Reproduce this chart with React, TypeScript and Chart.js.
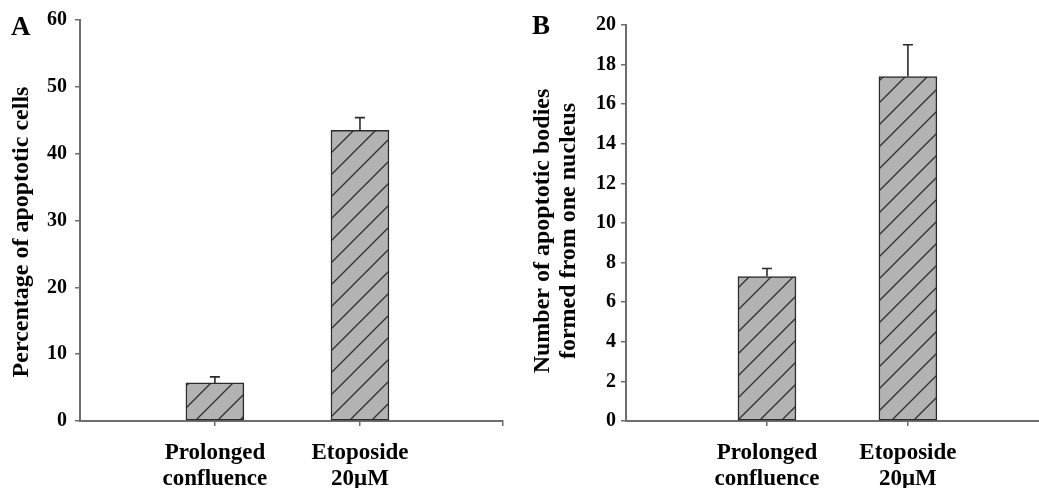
import React, { useEffect, useRef } from 'react';
import { Chart, registerables } from 'chart.js';

Chart.register(...registerables);

// ---- data ----
const categoryLabels: string[][] = [['Prolonged', 'confluence'], ['Etoposide', '20\u03BCM']];
const categoryPositions = [1, 2];
const percentApoptotic = [5.7, 43.5];
const percentApoptoticErr = [0.9, 1.9];
const bodiesPerNucleus = [7.3, 17.4];
const bodiesPerNucleusErr = [0.4, 1.6];
const titleA = ['Percentage of apoptotic cells'];
const titleB = ['Number of apoptotic bodies', 'formed from one nucleus'];

const SERIF = "'Liberation Serif', 'Times New Roman', serif";
const AXIS = '#6e6e6e';
const INK = '#000000';

function makeHatch(): CanvasPattern | string {
  const s = 22;
  const c = document.createElement('canvas');
  c.width = s;
  c.height = s;
  const g = c.getContext('2d');
  if (!g) return '#b4b4b4';
  g.fillStyle = '#b3b3b3';
  g.fillRect(0, 0, s, s);
  g.strokeStyle = '#2e2e2e';
  g.lineWidth = 1.3;
  g.beginPath();
  g.moveTo(-2, s + 2);
  g.lineTo(s + 2, -2);
  g.moveTo(-2, 2);
  g.lineTo(2, -2);
  g.moveTo(s - 2, s + 2);
  g.lineTo(s + 2, s - 2);
  g.stroke();
  return g.createPattern(c, 'repeat') || '#b4b4b4';
}

type PanelProps = {
  letter: string;
  values: number[];
  errors: number[];
  yMax: number;
  yStep: number;
  yTitle: string[];
  xMin: number;
  xMax: number;
  xTicks: number[];
  left: number;
  width: number;
  yAxisWidth: number;
  yTickPad: number;
  padTop: number;
  padRight: number;
  titleX: number[];
  titleY: number;
  letterX: number;
  letterY: number;
};

function Panel(p: PanelProps) {
  const ref = useRef<HTMLCanvasElement | null>(null);
  useEffect(() => {
    const canvas = ref.current;
    if (!canvas) return;
    const pattern = makeHatch();

    const errorPlugin = {
      id: 'errorBars' + p.letter,
      afterDatasetsDraw(chart: any) {
        const ctx = chart.ctx;
        const meta = chart.getDatasetMeta(0);
        const y = chart.scales.y;
        ctx.save();
        ctx.strokeStyle = '#2b2b2b';
        ctx.lineWidth = 1.6;
        meta.data.forEach((bar: any, i: number) => {
          const top = y.getPixelForValue(p.values[i] + p.errors[i]);
          ctx.beginPath();
          ctx.moveTo(bar.x, bar.y);
          ctx.lineTo(bar.x, top);
          ctx.moveTo(bar.x - 5, top);
          ctx.lineTo(bar.x + 5, top);
          ctx.stroke();
        });
        ctx.restore();
      },
    };

    const textPlugin = {
      id: 'texts' + p.letter,
      afterDraw(chart: any) {
        const ctx = chart.ctx;
        ctx.save();
        ctx.fillStyle = INK;
        ctx.font = `bold 27px ${SERIF}`;
        ctx.textAlign = 'left';
        ctx.textBaseline = 'alphabetic';
        ctx.fillText(p.letter, p.letterX, p.letterY);
        ctx.font = `bold 24px ${SERIF}`;
        ctx.textAlign = 'center';
        ctx.textBaseline = 'middle';
        p.yTitle.forEach((line, i) => {
          ctx.save();
          ctx.translate(p.titleX[i], p.titleY);
          ctx.rotate(-Math.PI / 2);
          ctx.fillText(line, 0, 0);
          ctx.restore();
        });
        ctx.restore();
      },
    };

    const chart = new Chart(canvas, {
      type: 'bar',
      data: {
        datasets: [
          {
            data: categoryPositions.map((x, i) => ({ x, y: p.values[i] })),
            backgroundColor: pattern as any,
            borderColor: '#2b2b2b',
            borderWidth: 1.5,
            borderSkipped: false,
            barThickness: 58,
          } as any,
        ],
      },
      options: {
        animation: false,
        responsive: false,
        events: [],
        layout: { padding: { left: 0, right: p.padRight, top: p.padTop, bottom: 0 } },
        plugins: { legend: { display: false }, tooltip: { enabled: false } },
        scales: {
          x: {
            type: 'linear',
            min: p.xMin,
            max: p.xMax,
            offset: false,
            afterBuildTicks: (s: any) => {
              s.ticks = p.xTicks.map((v) => ({ value: v }));
            },
            afterFit: (s: any) => {
              s.height = 67;
            },
            grid: { drawOnChartArea: false, tickLength: 5, color: AXIS, lineWidth: 1.5, offset: false },
            border: { color: AXIS, width: 2 },
            ticks: {
              autoSkip: false,
              maxRotation: 0,
              minRotation: 0,
              padding: 14,
              color: INK,
              font: { family: SERIF, size: 23, weight: 'bold', lineHeight: 1.13 },
              callback: (v: any) => {
                const i = categoryPositions.indexOf(Number(v));
                return i >= 0 ? categoryLabels[i] : '';
              },
            },
          } as any,
          y: {
            min: 0,
            max: p.yMax,
            afterFit: (s: any) => {
              s.width = p.yAxisWidth;
            },
            grid: { drawOnChartArea: false, tickLength: 5, color: AXIS, lineWidth: 1.5 },
            border: { color: AXIS, width: 2 },
            ticks: {
              stepSize: p.yStep,
              padding: p.yTickPad,
              color: INK,
              font: { family: SERIF, size: 20, weight: 'bold' },
            },
          } as any,
        },
      } as any,
      plugins: [errorPlugin, textPlugin],
    });
    return () => chart.destroy();
  }, []);

  return (
    <canvas
      ref={ref}
      width={p.width}
      height={488}
      style={{ position: 'absolute', left: p.left, top: 0, width: p.width, height: 488 }}
    />
  );
}

export default function App() {
  return (
    <div style={{ position: 'absolute', left: 0, top: 0, width: 1039, height: 488, background: '#fff', overflow: 'hidden' }}>
      <Panel
        letter="A"
        values={percentApoptotic}
        errors={percentApoptoticErr}
        yMax={60}
        yStep={10}
        yTitle={titleA}
        xMin={0.07}
        xMax={2.986}
        xTicks={[1, 2, 2.986]}
        left={0}
        width={520}
        yAxisWidth={80}
        yTickPad={8}
        padTop={20}
        padRight={17}
        titleX={[22]}
        titleY={232}
        letterX={11}
        letterY={35}
      />
      <Panel
        letter="B"
        values={bodiesPerNucleus}
        errors={bodiesPerNucleusErr}
        yMax={20}
        yStep={2}
        yTitle={titleB}
        xMin={0}
        xMax={2.93}
        xTicks={[1, 2]}
        left={520}
        width={519}
        yAxisWidth={106}
        yTickPad={5}
        padTop={25}
        padRight={0}
        titleX={[23, 49]}
        titleY={231}
        letterX={12}
        letterY={34}
      />
    </div>
  );
}
